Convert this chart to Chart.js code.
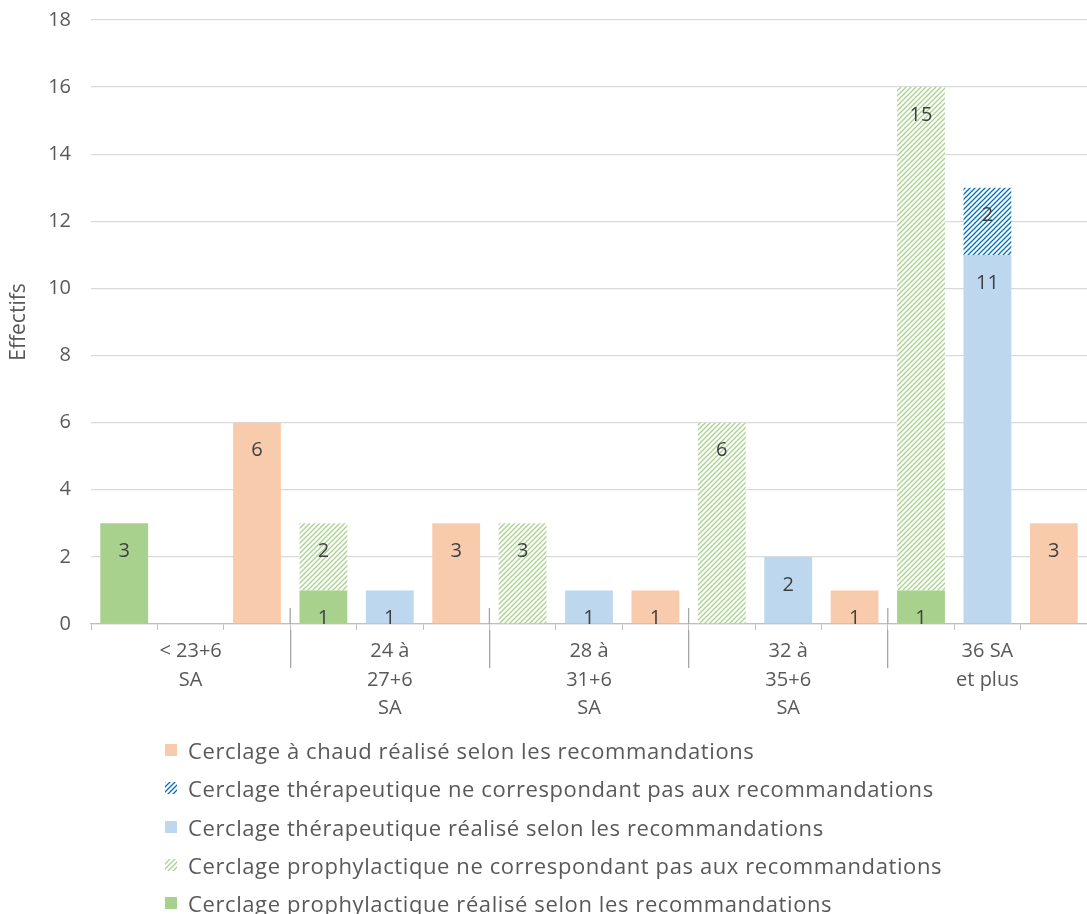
<!DOCTYPE html>
<html>
<head>
<meta charset="utf-8">
<script src="https://cdn.jsdelivr.net/npm/chart.js@4"></script>
<style>
  body { margin: 0; background: #fff; font-family: "Open Sans", sans-serif; overflow: hidden; }
  #wrap { position: absolute; left: 0; top: -12px; width: 1087px; height: 732px; }
  #legend { position: absolute; left: 165px; top: 731px; color: #595959; font-size: 22px; letter-spacing: 0.6px; }
  .item { height: 38.3px; display: flex; align-items: center; white-space: nowrap; }
  .item canvas { width: 12px; height: 12px; margin-right: 11px; }
</style>
</head>
<body>
<div id="wrap"><canvas id="chart"></canvas></div>
<div id="legend"></div>
<script>
// groups of gestational age, 3 slots each (prophylactique / thérapeutique / à chaud)
const groups = [["< 23+6", "SA"], ["24 à", "27+6", "SA"], ["28 à", "31+6", "SA"], ["32 à", "35+6", "SA"], ["36 SA", "et plus"]];
const prophOk = [3, 1, 0, 0, 1];
const prophNon = [0, 2, 3, 6, 15];
const theraOk = [0, 1, 1, 2, 11];
const theraNon = [0, 0, 0, 0, 2];
const chaudOk = [6, 3, 1, 1, 3];
const yTicks = { min: 0, max: 18, step: 2 };

const GREEN = "#A9D18E", BLUE = "#BDD7EE", PEACH = "#F8CBAD", DARKBLUE = "#0070C0";

// put each group value in its slot, other slots empty
function spread(vals, slot) {
  const out = [];
  vals.forEach((v, g) => {
    for (let s = 0; s < 3; s++) out.push(s === slot && v ? v : null);
  });
  return out;
}

function hatch(color) {
  const t = document.createElement("canvas");
  t.width = t.height = 5;
  const c = t.getContext("2d");
  c.fillStyle = "#fff";
  c.fillRect(0, 0, 5, 5);
  c.strokeStyle = color;
  c.lineWidth = 1.3;
  c.beginPath();
  c.moveTo(0, 5); c.lineTo(5, 0);
  c.moveTo(-1, 1); c.lineTo(1, -1);
  c.moveTo(4, 6); c.lineTo(6, 4);
  c.stroke();
  return c.createPattern(t, "repeat");
}

const greenHatch = hatch(GREEN);
const blueHatch = hatch(DARKBLUE);

const slotLabels = [];
groups.forEach(() => slotLabels.push("", "", ""));

const datasets = [
  { label: "Cerclage prophylactique réalisé selon les recommandations", data: spread(prophOk, 0), backgroundColor: GREEN },
  { label: "Cerclage prophylactique ne correspondant pas aux recommandations", data: spread(prophNon, 0), backgroundColor: greenHatch },
  { label: "Cerclage thérapeutique réalisé selon les recommandations", data: spread(theraOk, 1), backgroundColor: BLUE },
  { label: "Cerclage thérapeutique ne correspondant pas aux recommandations", data: spread(theraNon, 1), backgroundColor: blueHatch },
  { label: "Cerclage à chaud réalisé selon les recommandations", data: spread(chaudOk, 2), backgroundColor: PEACH },
];
datasets.forEach(d => { d.stack = "s"; d.barPercentage = 0.72; d.categoryPercentage = 1; });

// value labels near top of each segment
const valueLabels = {
  id: "valueLabels",
  afterDatasetsDraw(chart) {
    const ctx = chart.ctx;
    ctx.save();
    ctx.font = '20px "Open Sans"';
    ctx.fillStyle = "#404040";
    ctx.textAlign = "center";
    ctx.textBaseline = "middle";
    chart.data.datasets.forEach((ds, i) => {
      chart.getDatasetMeta(i).data.forEach((el, j) => {
        const v = ds.data[j];
        if (!v) return;
        ctx.fillText(String(v), el.x, el.y + 28);
      });
    });
    ctx.restore();
  }
};

// group separators poke a little above the axis line, like in the original
const groupSeparators = {
  id: "groupSeparators",
  afterDraw(chart) {
    const x = chart.scales.x, ctx = chart.ctx;
    ctx.save();
    ctx.strokeStyle = "#A6A6A6";
    ctx.lineWidth = 1.3;
    for (let g = 1; g < groups.length; g++) {
      const px = (x.getPixelForValue(g * 3 - 1) + x.getPixelForValue(g * 3)) / 2;
      ctx.beginPath();
      ctx.moveTo(px, x.top - 16);
      ctx.lineTo(px, x.top);
      ctx.stroke();
    }
    ctx.restore();
  }
};

Chart.defaults.font.family = '"Open Sans", sans-serif';
Chart.defaults.color = "#595959";

new Chart(document.getElementById("chart"), {
  type: "bar",
  data: { labels: slotLabels, datasets },
  options: {
    responsive: true,
    maintainAspectRatio: false,
    animation: false,
    layout: { padding: { top: 0, right: 0, left: 0, bottom: 0 } },
    plugins: { legend: { display: false }, tooltip: { enabled: false } },
    scales: {
      x: {
        stacked: true,
        grid: { drawOnChartArea: false, offset: true, tickLength: 6, color: "#BFBFBF" },
        border: { color: "#BFBFBF", width: 1.3 },
        ticks: { display: false },
        afterFit(s) { s.height = 6; }
      },
      x2: {
        type: "category",
        labels: groups,
        position: "bottom",
        offset: true,
        grid: {
          drawOnChartArea: false,
          offset: true,
          tickLength: 38,
          color: c => (c.type !== "tick" || c.index === 0) ? "rgba(0,0,0,0)" : "#A6A6A6",
          lineWidth: 1.3
        },
        border: { display: false },
        ticks: { color: "#595959", font: { size: 20, lineHeight: 1.43 }, padding: -31, maxRotation: 0, autoSkip: false },
        afterFit(s) { s.height = 90; }
      },
      y: {
        stacked: true,
        min: yTicks.min,
        max: yTicks.max,
        ticks: { stepSize: yTicks.step, color: "#595959", font: { size: 20 }, padding: 20 },
        grid: { color: "#D9D9D9", drawTicks: false, lineWidth: 1.3 },
        border: { display: false },
        title: { display: true, text: "Effectifs", color: "#595959", font: { size: 21 }, padding: { top: 6, bottom: 0 } },
        afterFit(s) { s.width = 91; }
      }
    }
  },
  plugins: [valueLabels, groupSeparators]
});

// legend, listed in reverse order like the original
const legend = document.getElementById("legend");
datasets.slice().reverse().forEach(d => {
  const row = document.createElement("div");
  row.className = "item";
  const sw = document.createElement("canvas");
  sw.width = sw.height = 12;
  const c = sw.getContext("2d");
  c.fillStyle = d.backgroundColor;
  c.fillRect(0, 0, 12, 12);
  const span = document.createElement("span");
  span.textContent = d.label;
  row.appendChild(sw);
  row.appendChild(span);
  legend.appendChild(row);
});
</script>
</body>
</html>
